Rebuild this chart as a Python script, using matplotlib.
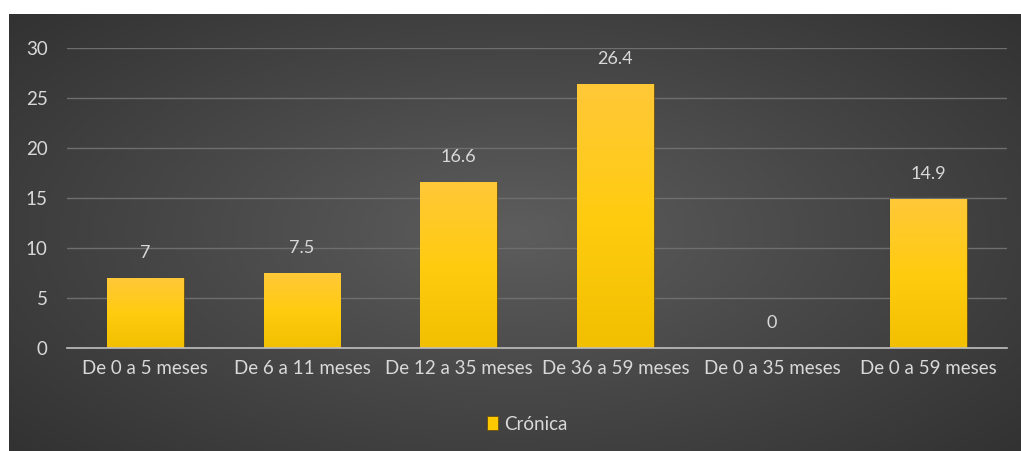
import numpy as np
import matplotlib.pyplot as plt
from matplotlib.colors import LinearSegmentedColormap

plt.rcParams['font.family'] = ['Lato', 'DejaVu Sans']

categorias = ['De 0 a 5 meses', 'De 6 a 11 meses', 'De 12 a 35 meses',
              'De 36 a 59 meses', 'De 0 a 35 meses', 'De 0 a 59 meses']
cronica = [7, 7.5, 16.6, 26.4, 0, 14.9]
etiquetas = ['7', '7.5', '16.6', '26.4', '0', '14.9']
yticks = [0, 5, 10, 15, 20, 25, 30]

texto = '#d9d9d9'

fig = plt.figure(figsize=(10.21, 4.51), dpi=100)
fig.patch.set_facecolor('white')

# fondo oscuro con degradado radial
fondo = fig.add_axes([9/1021, 0, 1 - 9/1021, 1 - 14/451])
fondo.set_axis_off()
gx, gy = np.meshgrid(np.linspace(-1, 1, 400), np.linspace(-1, 1, 200))
r = np.sqrt(gx**2 + (gy*0.9)**2)
cm_fondo = LinearSegmentedColormap.from_list('fondo', ['#5d5d5d', '#474747', '#323232'])
fondo.imshow(np.clip(r / 1.35, 0, 1), cmap=cm_fondo, aspect='auto', vmin=0, vmax=1,
             extent=[0, 1, 0, 1])
fondo.set_xlim(0, 1)
fondo.set_ylim(0, 1)

ax = fig.add_axes([67/1021, 1 - 348/451, (1007 - 67)/1021, 300/451])
ax.patch.set_alpha(0)
x = np.arange(len(categorias))
barras = ax.bar(x, cronica, width=0.49, color='#fcc800', edgecolor='#6b5010',
                linewidth=0.6, zorder=3, label='Crónica')

# degradado amarillo dentro de cada barra
cm_barra = LinearSegmentedColormap.from_list('barra', ['#f2c000', '#ffcc10', '#ffc838'])
grad = np.linspace(0, 1, 100).reshape(-1, 1)
for b in barras:
    if b.get_height() <= 0:
        continue
    im = ax.imshow(grad, cmap=cm_barra, origin='lower', aspect='auto', zorder=3.5,
                   extent=[b.get_x(), b.get_x() + b.get_width(), 0, b.get_height()])
    im.set_clip_path(b)

for xi, v, t in zip(x, cronica, etiquetas):
    ax.annotate(t, (xi, v), xytext=(0, 18), textcoords='offset points',
                ha='center', va='center', color=texto, fontsize=13)

ax.set_xlim(-0.5, len(categorias) - 0.5)
ax.set_ylim(0, 30)
ax.set_yticks(yticks)
ax.set_xticks(x)
ax.set_xticklabels(categorias)
ax.tick_params(axis='both', length=0, colors=texto, labelsize=13.5)
ax.tick_params(axis='y', pad=14)
ax.tick_params(axis='x', pad=9)
ax.grid(axis='y', color='#6e6e6e', linewidth=1, zorder=0)
for s in ['top', 'right', 'left']:
    ax.spines[s].set_visible(False)
ax.spines['bottom'].set_color('#bfbfbf')
ax.spines['bottom'].set_linewidth(1.2)
ax.spines['bottom'].set_zorder(4)

leg = fig.legend(handles=[barras], labels=['Crónica'], loc='center',
                 bbox_to_anchor=(527/1021, 1 - 424/451), frameon=False,
                 handlelength=0.6, handleheight=0.7, handletextpad=0.3,
                 fontsize=13.5, labelcolor=texto)

fig.savefig('out.png', dpi=100, facecolor=fig.get_facecolor())
